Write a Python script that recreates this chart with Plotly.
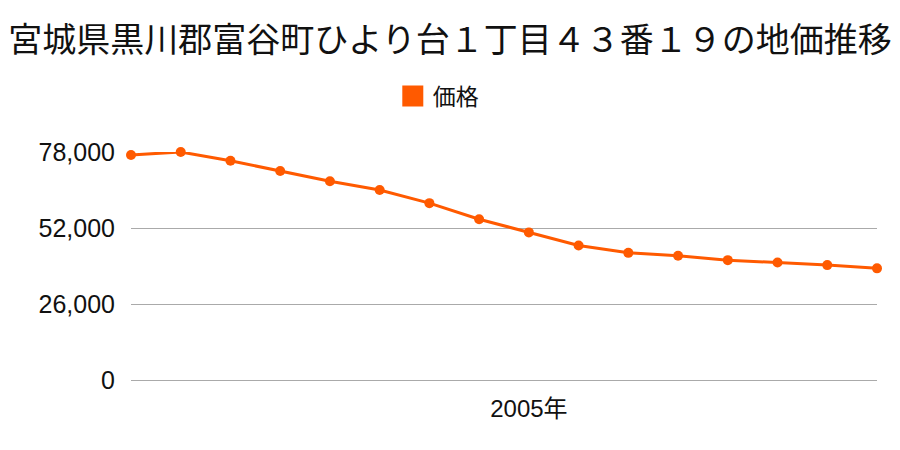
import plotly.graph_objects as go

years = list(range(1997, 2013))
prices = [77000, 78000, 75000, 71500, 68000, 65000, 60500, 55000, 50500,
          46000, 43500, 42500, 41000, 40200, 39300, 38200]
y_ticks = [0, 26000, 52000, 78000]
x_ticks = [2005]
x_ticktext = ["2005年"]
title = "宮城県黒川郡富谷町ひより台１丁目４３番１９の地価推移"
series_name = "価格"

color = "#ff5a00"
font_family = "Liberation Sans, Noto Sans CJK JP, sans-serif"

fig = go.Figure()
fig.add_trace(go.Scatter(
    x=years, y=prices, name=series_name, mode="lines+markers",
    line=dict(color=color, width=3),
    marker=dict(color=color, size=10),
    cliponaxis=False, showlegend=False,
))
# legend entry (square swatch)
fig.add_trace(go.Scatter(
    x=[None], y=[None], name=series_name, mode="markers",
    marker=dict(color=color, size=16, symbol="square",
                line=dict(color=color, width=6)),
    showlegend=True,
))

fig.update_layout(
    width=900, height=450,
    margin=dict(l=131, r=23, t=152, b=70, autoexpand=False),
    paper_bgcolor="white", plot_bgcolor="white",
    font=dict(family=font_family, color="#111", size=24),
    title=dict(text=title, x=0.5, xanchor="center", y=0.912, yanchor="middle",
               font=dict(size=34, color="#111", family="Noto Sans CJK JP, sans-serif")),
    showlegend=True,
    legend=dict(orientation="h", xref="container", x=0.487, xanchor="center",
                y=1.245, yanchor="middle",
                font=dict(size=23, family="Noto Sans CJK JP, sans-serif"),
                itemsizing="trace"),
    xaxis=dict(range=[years[0], years[-1]], tickvals=x_ticks, ticktext=x_ticktext,
               showgrid=False, zeroline=False, showline=False, ticks="",
               ticklabelstandoff=12, tickfont=dict(size=24)),
    yaxis=dict(range=[0, 78000], tickvals=y_ticks, tickformat=",d",
               showgrid=True, gridcolor="#aaaaaa", gridwidth=1,
               zeroline=True, zerolinecolor="#aaaaaa", zerolinewidth=1,
               showline=False, ticks="", ticklabelstandoff=15,
               tickfont=dict(size=25)),
)

fig.write_html("out.html")
